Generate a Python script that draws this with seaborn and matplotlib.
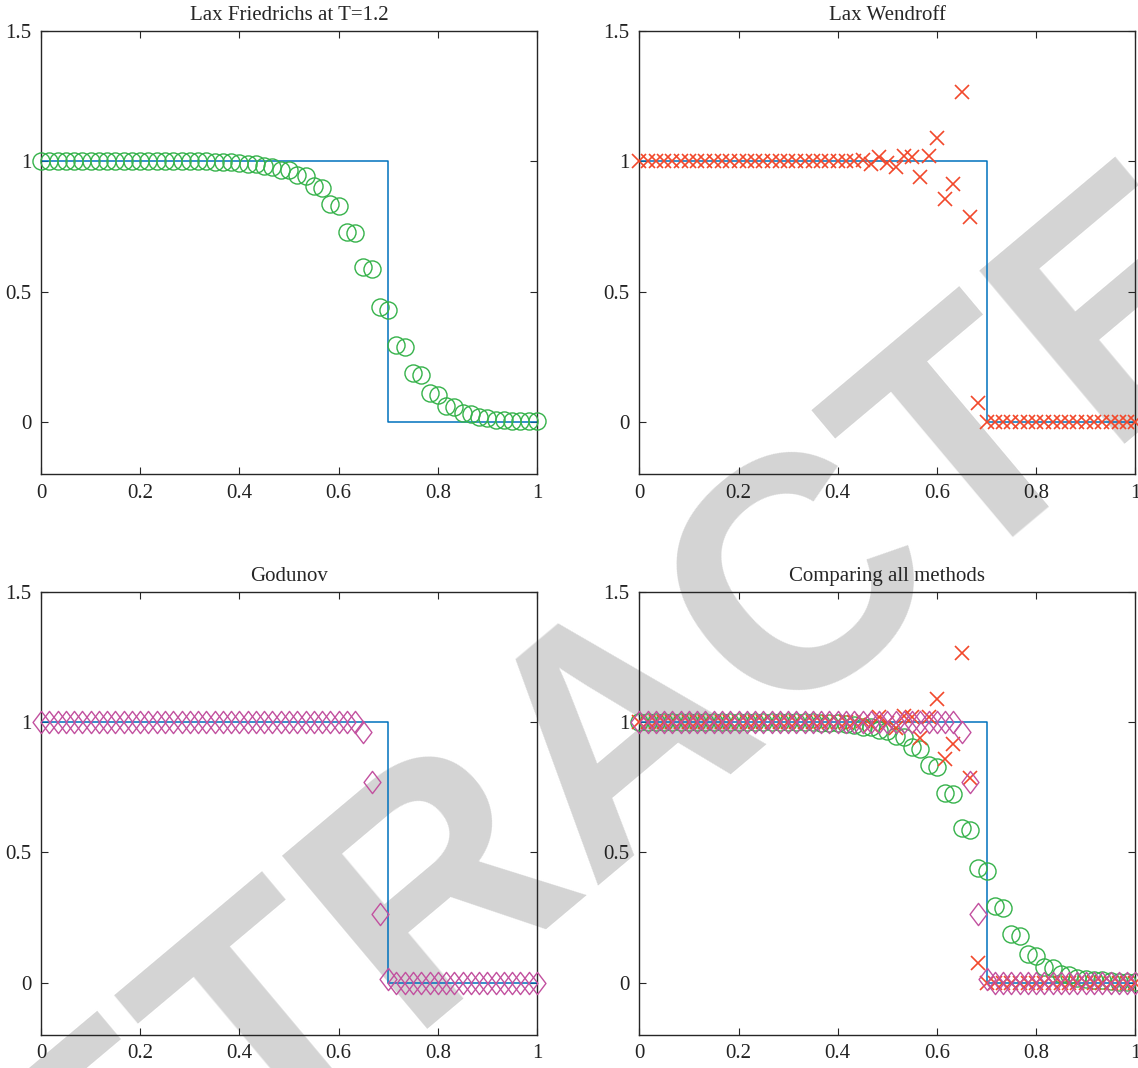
import numpy as np
import pandas as pd
import matplotlib
matplotlib.use("Agg")
import matplotlib.pyplot as plt
from matplotlib.path import Path
import seaborn as sns

# ---------------- data ----------------
x_grid = np.linspace(0.0, 1.0, 61)

exact_x = [0.0, 0.7, 0.7, 1.0]
exact_u = [1.0, 1.0, 0.0, 0.0]

lax_friedrichs = [1.0] * 21 + [
    0.999, 0.998, 0.996, 0.995, 0.991, 0.989, 0.982, 0.979, 0.968, 0.965,
    0.946, 0.943, 0.904, 0.897, 0.835, 0.828, 0.728, 0.724, 0.594, 0.586,
    0.441, 0.429, 0.295, 0.287, 0.188, 0.180, 0.111, 0.103, 0.061, 0.057,
    0.034, 0.031, 0.019, 0.015, 0.009, 0.008, 0.005, 0.004, 0.002, 0.002]

lax_wendroff = [1.0] * 27 + [
    1.004, 0.990, 1.018, 0.995, 0.978, 1.022, 1.018, 0.940, 1.020, 1.088,
    0.857, 0.914, 1.266, 0.785, 0.074] + [0.0] * 19

godunov = [1.0] * 39 + [0.960, 0.768, 0.265, 0.015] + [0.0] * 18

titles = ["Lax Friedrichs at T=1.2", "Lax Wendroff", "Godunov", "Comparing all methods"]
xtick_vals = [0, 0.2, 0.4, 0.6, 0.8, 1]
xtick_labels = ["0", "0.2", "0.4", "0.6", "0.8", "1"]
ytick_vals = [0, 0.5, 1, 1.5]
ytick_labels = ["0", "0.5", "1", "1.5"]

# ---------------- style ----------------
sns.set_style("ticks")
plt.rcParams["font.family"] = ["Liberation Serif", "DejaVu Serif"]
plt.rcParams["font.size"] = 15

c_line = "#0072BD"
c_lf = "#35B24A"
c_lw = "#F2482B"
c_god = "#C2509F"
spine_c = "#262626"

diamond = Path([(0, 1), (0.76, 0), (0, -1), (-0.76, 0), (0, 1)],
               [Path.MOVETO, Path.LINETO, Path.LINETO, Path.LINETO, Path.CLOSEPOLY])

df = pd.DataFrame({"x": x_grid, "lf": lax_friedrichs, "lw": lax_wendroff, "god": godunov})
ex = pd.DataFrame({"x": exact_x, "u": exact_u})

fig = plt.figure(figsize=(11.38, 10.68), dpi=100)

# watermark behind everything
fig.text(0.548, 0.312, "RETRACTED", rotation=40, rotation_mode="anchor",
         ha="center", va="center", fontsize=236, fontweight="bold",
         family=["Liberation Sans", "DejaVu Sans"], color="#d4d4d4", zorder=-5)

W = 496 / 1138
H = 443 / 1068
positions = [
    [41 / 1138, 1 - 474 / 1068, W, H],
    [639.3 / 1138, 1 - 474 / 1068, W, H],
    [41 / 1138, 1 - 1034.7 / 1068, W, H],
    [639.3 / 1138, 1 - 1034.7 / 1068, W, H],
]


def plot_lf(ax):
    sns.lineplot(data=df, x="x", y="lf", ax=ax, estimator=None, linestyle="",
                 marker="o", markersize=12.3, markerfacecolor="none",
                 markeredgecolor=c_lf, markeredgewidth=1.0, zorder=3, clip_on=False)


def plot_lw(ax):
    sns.lineplot(data=df, x="x", y="lw", ax=ax, estimator=None, linestyle="",
                 marker="x", markersize=9.5, color=c_lw,
                 markeredgecolor=c_lw, markeredgewidth=1.2, zorder=4, clip_on=False)


def plot_god(ax):
    sns.lineplot(data=df, x="x", y="god", ax=ax, estimator=None, linestyle="",
                 marker=diamond, markersize=16, markerfacecolor="none",
                 markeredgecolor=c_god, markeredgewidth=1.0, zorder=5, clip_on=False)


for k, pos in enumerate(positions):
    ax = fig.add_axes(pos)
    ax.patch.set_alpha(0)
    sns.lineplot(data=ex, x="x", y="u", ax=ax, estimator=None, sort=False,
                 color=c_line, linewidth=1.1, zorder=2)
    if k == 0:
        plot_lf(ax)
    elif k == 1:
        plot_lw(ax)
    elif k == 2:
        plot_god(ax)
    else:
        plot_lf(ax)
        plot_lw(ax)
        plot_god(ax)

    ax.set_xlim(0, 1)
    ax.set_ylim(-0.2, 1.5)
    ax.set_xticks(xtick_vals)
    ax.set_xticklabels(xtick_labels)
    ax.set_yticks(ytick_vals)
    ax.set_yticklabels(ytick_labels)
    ax.set_xlabel("")
    ax.set_ylabel("")
    ax.set_title(titles[k], fontsize=15, pad=8)
    ax.tick_params(direction="in", length=5, width=0.8, color=spine_c,
                   top=True, right=True, labelsize=15, pad=7, labelcolor="#222222")
    for s in ax.spines.values():
        s.set_visible(True)
        s.set_color(spine_c)
        s.set_linewidth(1.0)

fig.savefig("out.png", dpi=100)
